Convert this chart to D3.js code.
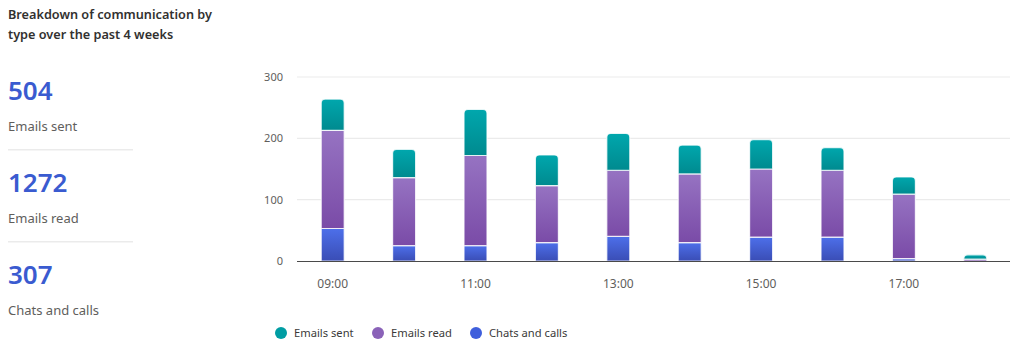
<!DOCTYPE html>
<html>
<head>
<meta charset="utf-8">
<script src="https://cdn.jsdelivr.net/npm/d3@7"></script>
<style>
	body { margin: 0; background: #fff; font-family: 'Segoe UI', 'Noto Sans', 'Open Sans', sans-serif; }
	svg { display: block; }
</style>
</head>
<body>
<div class="chart"></div>
<script>
// data
const hours = [ '09:00', '10:00', '11:00', '12:00', '13:00', '14:00', '15:00', '16:00', '17:00', '18:00' ];
const emailsSent = [ 51, 46, 75, 50, 60, 47, 48, 37, 28, 7 ];
const emailsRead = [ 160, 111, 147, 93, 108, 112, 111, 109, 105, 3 ];
const chatsCalls = [ 53, 25, 25, 30, 40, 30, 39, 39, 4, 0 ];
const yTicks = [ 0, 100, 200, 300 ];
const xTickLabels = [ '09:00', '11:00', '13:00', '15:00', '17:00' ];

const seriesNames = [ 'Chats and calls', 'Emails read', 'Emails sent' ];
const legendOrder = [ 'Emails sent', 'Emails read', 'Chats and calls' ];
const summary = [
	{ value: '504', label: 'Emails sent' },
	{ value: '1272', label: 'Emails read' },
	{ value: '307', label: 'Chats and calls' }
];

const colors = {
	'Emails sent': [ '#00a7ad', '#008a8f' ],
	'Emails read': [ '#9673c2', '#7a4ba7' ],
	'Chats and calls': [ '#4d6fea', '#3a4db5' ]
};
const legendColor = { 'Emails sent': '#009da3', 'Emails read': '#8a62b8', 'Chats and calls': '#3f5fdc' };

const rows = hours.map((h, i) => ({
	hour: h,
	'Chats and calls': chatsCalls[i],
	'Emails read': emailsRead[i],
	'Emails sent': emailsSent[i]
}));

const svgWidth = 1024;
const svgHeight = 353;
const plot = { left: 297, right: 1011, top: 77, bottom: 261 };

const svg = d3.select('.chart').append('svg').attr('width', svgWidth).attr('height', svgHeight);

// gradients
const defs = svg.append('defs');
seriesNames.forEach((name, i) => {
	const g = defs.append('linearGradient').attr('id', 'grad' + i).attr('x1', 0).attr('y1', 0).attr('x2', 0).attr('y2', 1);
	g.append('stop').attr('offset', '0%').attr('stop-color', colors[name][0]);
	g.append('stop').attr('offset', '100%').attr('stop-color', colors[name][1]);
});

// left panel
const left = svg.append('g').attr('fill', '#323130');
left.append('text').attr('x', 8).attr('y', 19).attr('font-size', 12.7).attr('font-weight', 600).text('Breakdown of communication by');
left.append('text').attr('x', 8).attr('y', 39).attr('font-size', 12.7).attr('font-weight', 600).text('type over the past 4 weeks');

const block = left.selectAll('g.block').data(summary).join('g').attr('class', 'block')
	.attr('transform', (d, i) => `translate(8,${i * 92})`);
block.append('text').attr('y', 100).attr('font-size', 26).attr('font-weight', 600).attr('fill', '#3a5bd0').text((d) => d.value);
block.append('text').attr('y', 131).attr('font-size', 13).attr('fill', '#605e5c').text((d) => d.label);
block.filter((d, i) => i < summary.length - 1)
	.append('rect').attr('x', 0).attr('y', 149).attr('width', 125).attr('height', 1.5).attr('fill', '#ebebeb');

// scales
const x = d3.scaleBand().domain(hours).range([ plot.left, plot.right ]);
const barW = 23;
const y = d3.scaleLinear().domain([ 0, 300 ]).range([ plot.bottom, plot.top ]);

// grid
svg.append('g').selectAll('line').data(yTicks.filter((t) => t > 0)).join('line')
	.attr('x1', plot.left).attr('x2', plot.right - 1)
	.attr('y1', (d) => y(d)).attr('y2', (d) => y(d))
	.attr('stroke', '#ebebeb').attr('stroke-width', 1.2);

// y axis labels
const yAxis = d3.axisLeft(y).tickValues(yTicks).tickSize(0).tickPadding(14);
svg.append('g').attr('transform', `translate(${plot.left},0)`).call(yAxis)
	.call((g) => g.select('.domain').remove())
	.call((g) => g.selectAll('text').attr('fill', '#605e5c').attr('font-size', 11).attr('font-family', "'Segoe UI', 'Noto Sans', sans-serif"));

// stacked bars
const stack = d3.stack().keys(seriesNames)(rows);
const barGroups = svg.append('g').selectAll('g').data(stack).join('g')
	.attr('fill', (d, i) => `url(#grad${i})`);

function barPath(d, isTop) {
	const x0 = x(d.data.hour) + (x.bandwidth() - barW) / 2;
	const y0 = y(d[1]);
	const y1 = y(d[0]);
	const h = y1 - y0;
	if (h <= 0) return '';
	const r = isTop ? Math.min(4, h, barW / 2) : 0;
	return `M${x0},${y1}V${y0 + r}Q${x0},${y0} ${x0 + r},${y0}H${x0 + barW - r}Q${x0 + barW},${y0} ${x0 + barW},${y0 + r}V${y1}Z`;
}

barGroups.selectAll('path').data((s, i) => s.map((d) => ({ d, top: i === seriesNames.length - 1 }))).join('path')
	.attr('d', (o) => barPath(o.d, o.top))
	.attr('stroke', '#fff').attr('stroke-width', 1.2).attr('stroke-opacity', 0.8);

// x axis
svg.append('line').attr('x1', plot.left).attr('x2', plot.right - 1)
	.attr('y1', plot.bottom + 0.5).attr('y2', plot.bottom + 0.5)
	.attr('stroke', '#4a4a4a').attr('stroke-width', 1.2);

svg.append('g').selectAll('text').data(xTickLabels).join('text')
	.attr('x', (d) => x(d) + x.bandwidth() / 2).attr('y', 288)
	.attr('text-anchor', 'middle').attr('font-size', 12).attr('fill', '#605e5c')
	.text((d) => d);

// legend
const legendX = [ 281, 378, 476 ];
const legend = svg.append('g').selectAll('g').data(legendOrder).join('g')
	.attr('transform', (d, i) => `translate(${legendX[i]},333)`);
legend.append('circle').attr('r', 6).attr('fill', (d) => legendColor[d]);
legend.append('text').attr('x', 13).attr('y', 4).attr('font-size', 11.2).attr('fill', '#3b3a39').text((d) => d);
</script>
</body>
</html>
